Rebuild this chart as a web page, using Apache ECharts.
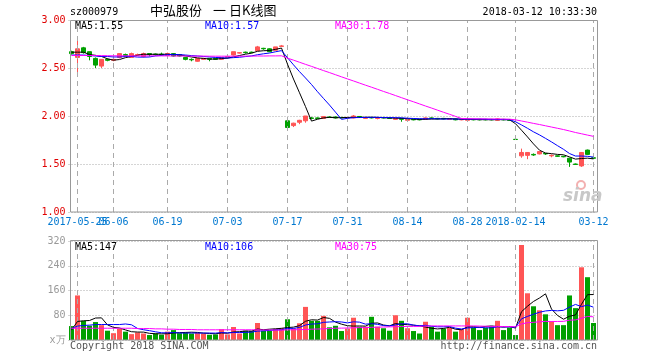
<!DOCTYPE html>
<html><head><meta charset="utf-8">
<script src="https://cdn.jsdelivr.net/npm/echarts@6/dist/echarts.min.js"></script>
<style>html,body{margin:0;padding:0;background:#fff}#c{width:660px;height:360px}</style>
</head><body><div id="c"></div>
<script>
const dates = ['2017-05-24','2017-05-25','2017-05-26','2017-05-31','2017-06-01','2017-06-02','2017-06-05','2017-06-06','2017-06-07','2017-06-08',
'2017-06-09','2017-06-12','2017-06-13','2017-06-14','2017-06-15','2017-06-16','2017-06-19','2017-06-20','2017-06-21','2017-06-22',
'2017-06-23','2017-06-26','2017-06-27','2017-06-28','2017-06-29','2017-06-30','2017-07-03','2017-07-04','2017-07-05','2017-07-06',
'2017-07-07','2017-07-10','2017-07-11','2017-07-12','2017-07-13','2017-07-14','2017-07-17','2017-07-18','2017-07-19','2017-07-20',
'2017-07-21','2017-07-24','2017-07-25','2017-07-26','2017-07-27','2017-07-28','2017-07-31','2017-08-01','2017-08-02','2017-08-03',
'2017-08-04','2017-08-07','2017-08-08','2017-08-09','2017-08-10','2017-08-11','2017-08-14','2017-08-15','2017-08-16','2017-08-17',
'2017-08-18','2017-08-21','2017-08-22','2017-08-23','2017-08-24','2017-08-25','2017-08-28','2017-08-29','2017-08-30','2017-08-31',
'2017-09-01','2017-09-04','2017-09-05','2017-09-06','2018-02-14','2018-02-22','2018-02-23','2018-02-26','2018-02-27','2018-02-28',
'2018-03-01','2018-03-02','2018-03-05','2018-03-06','2018-03-07','2018-03-08','2018-03-09','2018-03-12'];

const openP = [2.67,2.61,2.71,2.67,2.60,2.52,2.59,2.58,2.61,2.64,
2.61,2.635,2.62,2.65,2.645,2.645,2.63,2.65,2.64,2.61,
2.59,2.57,2.59,2.60,2.60,2.59,2.61,2.635,2.655,2.665,
2.665,2.68,2.705,2.70,2.685,2.725,1.95,1.90,1.935,1.95,
1.98,1.98,1.975,1.99,1.99,1.985,1.98,1.98,1.995,1.975,
1.985,1.975,1.985,1.98,1.965,1.975,1.955,1.965,1.965,1.965,
1.98,1.975,1.975,1.965,1.97,1.96,1.955,1.965,1.965,1.965,
1.965,1.955,1.965,1.96,1.757,1.585,1.59,1.60,1.605,1.61,
1.585,1.585,1.58,1.56,1.50,1.48,1.645,1.565];
const closeP = [2.65,2.70,2.66,2.62,2.53,2.59,2.58,2.59,2.65,2.63,
2.65,2.64,2.65,2.64,2.64,2.64,2.65,2.625,2.625,2.59,
2.585,2.60,2.60,2.59,2.59,2.61,2.62,2.67,2.66,2.66,
2.66,2.72,2.70,2.67,2.72,2.73,1.88,1.925,1.955,2.00,
1.975,1.975,1.995,1.985,1.98,1.98,1.985,2.00,1.985,1.985,
1.98,1.98,1.98,1.975,1.975,1.965,1.965,1.96,1.96,1.98,
1.975,1.97,1.97,1.97,1.96,1.965,1.965,1.96,1.96,1.96,
1.96,1.97,1.96,1.955,1.755,1.62,1.62,1.594,1.63,1.605,
1.59,1.58,1.575,1.52,1.495,1.62,1.60,1.56];
const lowP = [2.64,2.43,2.65,2.58,2.50,2.50,2.57,2.57,2.60,2.62,
2.61,2.63,2.61,2.62,2.63,2.63,2.63,2.62,2.62,2.58,
2.57,2.565,2.585,2.57,2.585,2.585,2.605,2.63,2.65,2.65,
2.655,2.68,2.69,2.665,2.68,2.72,1.865,1.885,1.915,1.93,
1.965,1.97,1.97,1.98,1.975,1.975,1.975,1.975,1.98,1.97,
1.975,1.965,1.975,1.97,1.96,1.94,1.95,1.955,1.955,1.96,
1.97,1.965,1.965,1.96,1.955,1.955,1.95,1.955,1.955,1.955,
1.955,1.95,1.955,1.95,1.755,1.565,1.55,1.585,1.60,1.595,
1.57,1.575,1.57,1.47,1.49,1.47,1.595,1.555];
const highP = [2.68,2.83,2.72,2.67,2.61,2.59,2.60,2.60,2.65,2.65,
2.66,2.65,2.66,2.65,2.65,2.66,2.66,2.655,2.645,2.615,
2.60,2.60,2.605,2.60,2.605,2.615,2.625,2.67,2.665,2.67,
2.67,2.73,2.71,2.705,2.72,2.74,1.96,1.93,1.96,2.00,
1.99,1.985,2.00,1.995,1.995,1.99,1.99,2.01,2.00,1.99,
1.99,1.985,1.99,1.985,1.98,1.98,1.97,1.97,1.97,1.985,
1.985,1.98,1.98,1.975,1.975,1.97,1.97,1.97,1.97,1.97,
1.97,1.975,1.97,1.965,1.757,1.66,1.625,1.61,1.635,1.615,
1.60,1.59,1.585,1.565,1.505,1.625,1.65,1.57];

const volume = [45,144,62,46,58,48,30,22,36,27,
19,24.5,21,16,21,17,27,32,22,24,
21,23,21,17,18,35,18,42,21,30,
30,55,30,30,36,38,67,37,54,107,
62,62,78,41,46,29,37,72,43,43,
75,43,38,30,80,62,38,29,21,59,
43,27,37,40,27,35,72,40,32,40,
43,62,32,40,16,307,151,109,96,83,
61,48,48,144,103,235,203,55];

const ma5 = [2.665,2.665,2.665,2.64,2.632,2.62,2.596,2.582,2.588,2.608,
2.62,2.632,2.644,2.642,2.644,2.642,2.644,2.639,2.636,2.626,
2.615,2.605,2.60,2.593,2.593,2.598,2.602,2.616,2.63,2.644,
2.654,2.674,2.68,2.682,2.694,2.708,2.54,2.385,2.242,2.098,
1.947,1.966,1.98,1.986,1.982,1.983,1.985,1.986,1.986,1.987,
1.987,1.986,1.982,1.98,1.978,1.975,1.972,1.968,1.965,1.966,
1.968,1.969,1.971,1.973,1.969,1.967,1.966,1.964,1.962,1.962,
1.961,1.962,1.962,1.961,1.92,1.852,1.782,1.709,1.644,1.614,
1.608,1.60,1.596,1.574,1.551,1.557,1.561,1.553];
const ma10 = [2.635,2.635,2.635,2.63,2.625,2.62,2.62,2.615,2.615,2.62,
2.62,2.614,2.613,2.615,2.626,2.631,2.638,2.642,2.639,2.635,
2.629,2.625,2.62,2.615,2.61,2.607,2.604,2.608,2.612,2.619,
2.626,2.638,2.648,2.656,2.669,2.681,2.607,2.533,2.462,2.396,
2.328,2.253,2.183,2.114,2.04,1.965,1.976,1.983,1.984,1.985,
1.986,1.986,1.984,1.983,1.983,1.981,1.977,1.974,1.972,1.971,
1.972,1.971,1.968,1.969,1.968,1.968,1.968,1.967,1.968,1.966,
1.964,1.964,1.963,1.962,1.94,1.907,1.872,1.835,1.803,1.767,
1.73,1.691,1.653,1.609,1.583,1.583,1.58,1.572];
const ma30 = [2.63,2.63,2.63,2.63,2.63,2.629,2.628,2.627,2.627,2.627,
2.626,2.626,2.626,2.626,2.626,2.626,2.626,2.625,2.625,2.625,
2.624,2.624,2.624,2.623,2.623,2.623,2.623,2.623,2.623,2.624,
2.624,2.625,2.625,2.626,2.626,2.627,2.603,2.582,2.560,2.538,
2.517,2.495,2.473,2.452,2.430,2.408,2.386,2.365,2.343,2.321,
2.300,2.278,2.256,2.235,2.213,2.191,2.169,2.148,2.126,2.104,
2.083,2.061,2.039,2.018,1.996,1.974,1.972,1.971,1.970,1.970,
1.969,1.969,1.968,1.967,1.960,1.948,1.936,1.923,1.911,1.898,
1.885,1.872,1.859,1.844,1.828,1.815,1.801,1.788];

const vma5 = [32,60,62,63,71,71.6,48.8,40.8,38.8,32.6,
26.8,25.7,25.5,21.5,20.3,19.9,20.4,22.6,23.8,24.4,
25.2,24.4,22.2,21.2,20,22.8,21.8,26,26.8,29.2,
28.2,35.6,33.2,35,36.2,37.8,40.2,41.6,46.4,60.6,
65.4,64.4,72.6,70,57.8,51.2,46.2,45,45.4,44.8,
54,55.2,48.4,45.8,53.2,50.6,49.6,47.8,46,41.8,
38,35.8,37.4,41.2,34.8,33.2,42.2,42.8,41.2,43.8,
45.4,43.4,41.8,43.4,38.6,91.4,109.2,124.6,135.8,149.2,
100,79.4,67.2,76.8,80.8,115.6,146.6,147];
const vma10 = [37,45,47,48,50,50,50,50,50,51.8,
49.2,37.3,33.2,30.2,26.5,23.4,23.1,24.1,22.7,22.4,
22.6,22.4,22.4,22.5,22.2,24,23.1,24.1,24,24.6,
25.5,28.7,29.6,30.9,32.7,33,37.9,37.4,40.7,48.4,
51.6,52.3,57.1,58.2,59.2,58.3,55.3,58.8,57.7,51.3,
52.6,50.7,46.7,45.6,49,52.3,52.4,48.1,45.9,47.5,
44.3,42.7,42.6,43.6,38.3,35.6,39,40.1,41.2,39.3,
39.3,42.8,42.3,42.3,41.2,68.4,76.3,83.2,89.6,93.9,
95.7,94.3,95.9,106.3,115,107.8,113,106];
const vma30 = [38,38,38,38,38,38,38,38,38,38,
38,37,37,37,36,36,35,35,34,34,
34,33,33,33,33,33,33,33,33,33,
33,33,32.5,32.5,32,32,33,33,33.5,34,
35,35.5,36,37,38,38.4,38.8,39.5,40,40,
41,41.5,42,42.5,43,43.5,44,44,44,45,
45.5,45.5,45.5,45.5,45.5,45.5,45.5,45.5,45,44.5,
44,44,43.5,43.5,42.8,52.1,55.9,57.1,58.9,60.2,
59.8,59.9,60.3,64.1,64.8,70.6,76.1,75];

const tickIndex = [1,7,16,26,36,46,56,66,74,87];
const tickText = ['2017-05-25','06-06','06-19','07-03','07-17','07-31','08-14','08-28','2018-02-14','03-12'];
const priceTicks = {min:1, max:3, step:0.5};
const volTicks = {min:0, max:320, step:80};
const maLabels = ['MA5:1.55','MA10:1.57','MA30:1.78'];
const vmaLabels = ['MA5:147','MA10:106','MA30:75'];

const UP = '#ff5555', DOWN = '#00a000';
const MONO = '"DejaVu Sans Mono", "Liberation Mono", monospace';
const candles = dates.map((d,i)=>[openP[i],closeP[i],lowP[i],highP[i]]);
const volItems = volume.map((v,i)=>({value:v,itemStyle:{color: closeP[i] > openP[i] ? UP : DOWN}}));
const vLines = tickIndex.map(i=>({xAxis: dates[i]}));
const markLineCfg = {silent:true, symbol:['none','none'], label:{show:false}, animation:false,
  lineStyle:{color:'#aaa', type:[5,4], width:1}, data:vLines};
// first label lives on its own axis so that it is not dropped when it overlaps the next one
const firstTick = [tickIndex[0]];
const otherTicks = tickIndex.slice(1);
function labelAxis(ticks, show){
  return {type:'category', gridIndex:0, data:dates, boundaryGap:true, position:'bottom',
    axisLine:{show:false}, axisTick:{show:false}, splitLine:{show:false},
    axisLabel:{show:show, interval:(idx)=>ticks.includes(idx), hideOverlap:false, margin:5,
      formatter:(v,idx)=>{const k=tickIndex.indexOf(idx); return (k>=0 && ticks.includes(idx))?tickText[k]:'';},
      color:'#0078d0', fontFamily:MONO, fontSize:10}};
}

const chart = echarts.init(document.getElementById('c'), null, {renderer:'canvas'});
function txt(x,y,t,color,opt){
  return Object.assign({type:'text', x:x, y:y, silent:true, z:100,
    style:Object.assign({text:t, fill:color, font:'10px '+MONO, align:'left', verticalAlign:'top', textAlign:'left', textVerticalAlign:'top'}, opt||{})});
}
const line = (name,data,color,xi,yi)=>({name, type:'line', data, xAxisIndex:xi, yAxisIndex:yi, symbol:'none', showSymbol:false,
  lineStyle:{color, width:1}, itemStyle:{color}, animation:false, silent:true, z:5});

const xAxes = [labelAxis(otherTicks, true),
  {type:'category', gridIndex:1, data:dates, boundaryGap:true,
   axisLine:{show:false}, axisTick:{show:false}, splitLine:{show:false}, axisLabel:{show:false}},
  labelAxis(firstTick, true)];

chart.setOption({
  animation:false,
  backgroundColor:'#fff',
  grid:[{left:68.5, top:20, width:528, height:192},{left:68.5, top:241, width:528, height:99}],
  xAxis:xAxes,
  yAxis:[
    {type:'value', gridIndex:0, min:priceTicks.min, max:priceTicks.max, interval:priceTicks.step,
     axisLine:{show:false}, axisTick:{show:false},
     splitLine:{show:true, lineStyle:{color:'#aaa', type:[1,2], width:1}},
     axisLabel:{formatter:v=>v.toFixed(2), color:'#e00000', fontFamily:MONO, fontSize:10, margin:3}},
    {type:'value', gridIndex:1, min:volTicks.min, max:volTicks.max, interval:volTicks.step,
     axisLine:{show:false}, axisTick:{show:false},
     splitLine:{show:true, lineStyle:{color:'#aaa', type:[1,2], width:1}},
     axisLabel:{formatter:v=>v===0?'x万':String(v), color:'#999', fontFamily:MONO, fontSize:10, margin:3}}
  ],
  series:[
    {type:'candlestick', xAxisIndex:0, yAxisIndex:0, data:candles, barWidth:5, silent:true,
     itemStyle:{color:UP, color0:DOWN, borderColor:UP, borderColor0:DOWN, borderWidth:1},
     markLine:markLineCfg, z:3},
    line('MA5',ma5,'#000000',0,0),
    line('MA10',ma10,'#0000ff',0,0),
    line('MA30',ma30,'#ff00ff',0,0),
    {type:'bar', xAxisIndex:1, yAxisIndex:1, data:volItems, barWidth:5, silent:true, markLine:markLineCfg, z:3},
    line('VMA5',vma5,'#000000',1,1),
    line('VMA10',vma10,'#0000ff',1,1),
    line('VMA30',vma30,'#ff00ff',1,1)
  ],
  graphic:[
    {type:'rect', z:100, silent:true, shape:{x:70.5, y:20.5, width:527, height:191.5}, style:{fill:'none', stroke:'#999', lineWidth:1}},
    {type:'rect', z:100, silent:true, shape:{x:70.5, y:240.5, width:527, height:99.5}, style:{fill:'none', stroke:'#999', lineWidth:1}},
    txt(70,7,'sz000979','#000'),
    txt(150,4,'中弘股份','#000',{font:'13px "Noto Sans CJK SC"'}),
    txt(213,4,'一','#000',{font:'13px "Noto Sans CJK SC"'}),
    txt(229,4,'日K线图','#000',{font:'13px "Noto Sans CJK SC"'}),
    txt(597,7,'2018-03-12 10:33:30','#000',{align:'right', textAlign:'right'}),
    txt(75,21,maLabels[0],'#000'),
    txt(205,21,maLabels[1],'#0000ff'),
    txt(335,21,maLabels[2],'#ff00ff'),
    txt(75,242,vmaLabels[0],'#000'),
    txt(205,242,vmaLabels[1],'#0000ff'),
    txt(335,242,vmaLabels[2],'#ff00ff'),
    txt(70,341,'Copyright 2018 SINA.COM','#555'),
    txt(597,341,'http://finance.sina.com.cn','#555',{align:'right', textAlign:'right'}),
    txt(563,188,'sina','#c8c8c8',{font:'italic bold 17px "DejaVu Sans"'}),
    {type:'circle', z:99, silent:true, shape:{cx:581, cy:185, r:4}, style:{fill:'none', stroke:'#f3b0b0', lineWidth:2}}
  ]
});
</script></body></html>
